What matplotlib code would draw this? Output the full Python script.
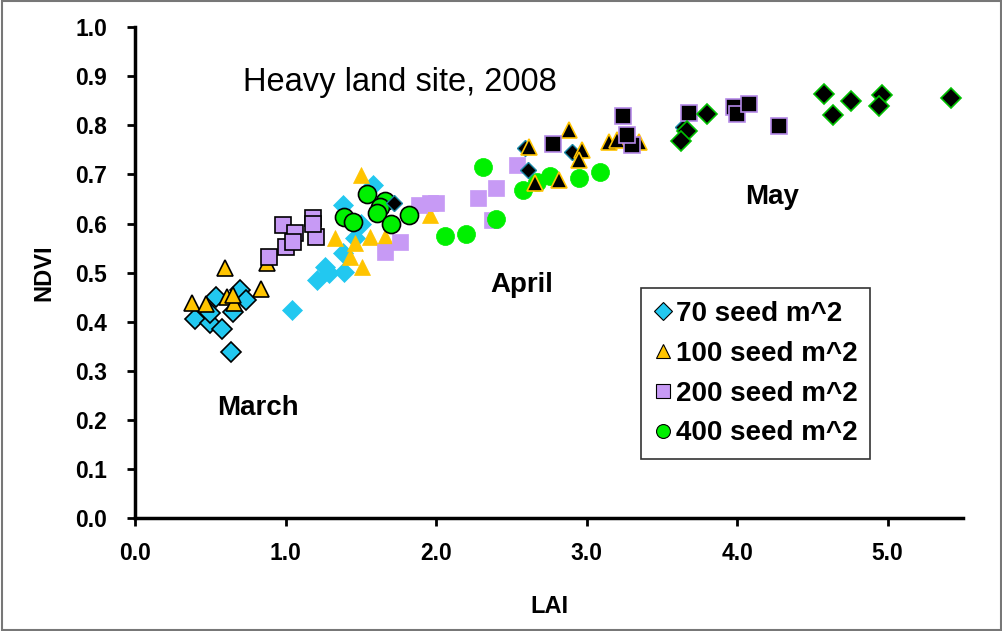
import matplotlib
matplotlib.use("Agg")
import matplotlib.pyplot as plt
from matplotlib.patches import Rectangle
from matplotlib.lines import Line2D

plt.rcParams['font.family'] = ['Liberation Sans', 'DejaVu Sans']

# ---- data (LAI, NDVI) ----
# March samples
mar70_x = [0.40, 0.50, 0.58, 0.54, 0.64, 0.65, 0.70, 0.74, 0.50]
mar70_y = [0.405, 0.397, 0.385, 0.450, 0.338, 0.420, 0.464, 0.444, 0.418]
mar100_x = [0.38, 0.47, 0.60, 0.61, 0.66, 0.65, 0.84, 0.88]
mar100_y = [0.438, 0.436, 0.509, 0.450, 0.438, 0.454, 0.466, 0.519]
mar200_x = [0.89, 0.98, 1.00, 1.06, 1.05, 1.18, 1.20, 1.18]
mar200_y = [0.532, 0.597, 0.552, 0.580, 0.562, 0.611, 0.572, 0.600]
mar400_x = [1.39, 1.45, 1.54, 1.66, 1.63, 1.61, 1.70, 1.82]
mar400_y = [0.613, 0.603, 0.660, 0.646, 0.633, 0.621, 0.599, 0.617]

# April samples
apr70_x = [1.04, 1.21, 1.26, 1.38, 1.39, 1.38, 1.46, 1.58, 1.50, 1.29]
apr70_y = [0.424, 0.485, 0.511, 0.637, 0.501, 0.540, 0.570, 0.678, 0.600, 0.500]
apr100_x = [1.50, 1.33, 1.46, 1.56, 1.66, 1.43, 1.51, 1.96]
apr100_y = [0.699, 0.570, 0.560, 0.572, 0.572, 0.532, 0.511, 0.617]
apr200_x = [1.96, 1.89, 1.76, 1.66, 2.00, 2.40, 2.28, 2.37, 2.54]
apr200_y = [0.641, 0.637, 0.562, 0.542, 0.641, 0.672, 0.652, 0.607, 0.719]
apr400_x = [2.31, 2.06, 2.20, 2.40, 2.58, 2.67, 2.76, 2.95, 3.09]
apr400_y = [0.715, 0.574, 0.578, 0.609, 0.668, 0.684, 0.697, 0.692, 0.705]

# May samples
may70_x = [2.59, 2.90, 2.61, 1.72, 3.64]
may70_y = [0.754, 0.745, 0.709, 0.641, 0.797]
may100_x = [2.62, 2.88, 2.97, 2.95, 3.15, 3.20, 3.35, 2.66, 2.82]
may100_y = [0.756, 0.790, 0.749, 0.729, 0.766, 0.770, 0.766, 0.682, 0.688]
may200_x = [3.24, 2.78, 3.30, 3.27, 3.68, 3.98, 4.00, 4.08, 4.28]
may200_y = [0.819, 0.762, 0.760, 0.780, 0.825, 0.837, 0.823, 0.843, 0.798]
may400_x = [3.80, 3.67, 3.63, 4.58, 4.64, 4.76, 4.96, 4.94, 5.42]
may400_y = [0.823, 0.788, 0.768, 0.864, 0.821, 0.849, 0.862, 0.839, 0.855]

labels = ['70 seed m^2', '100 seed m^2', '200 seed m^2', '400 seed m^2']
colors = ['#22c8f0', '#ffc400', '#c79af5', '#00f000']
markers = ['D', '^', 's', 'o']
sizes = [10, 12, 12, 13]

fig = plt.figure(figsize=(10.03, 6.31), dpi=100)
ax = fig.add_axes([0.1346, 0.179, 0.8254, 0.778])

march = [(mar70_x, mar70_y), (mar100_x, mar100_y), (mar200_x, mar200_y), (mar400_x, mar400_y)]
april = [(apr70_x, apr70_y), (apr100_x, apr100_y), (apr200_x, apr200_y), (apr400_x, apr400_y)]

for i in range(4):
    # March: coloured with black outline
    ax.plot(march[i][0], march[i][1], linestyle='none', marker=markers[i],
            markersize=sizes[i], markerfacecolor=colors[i], markeredgecolor='black',
            markeredgewidth=1.2, zorder=2 + i)
    # April: coloured, no outline
    ax.plot(april[i][0], april[i][1], linestyle='none', marker=markers[i],
            markersize=sizes[i], markerfacecolor=colors[i], markeredgecolor=colors[i],
            markeredgewidth=0.5, zorder=2 + i)

# May: black fill, coloured outline
ax.plot(may70_x, may70_y, linestyle='none', marker='D', markersize=8,
        markerfacecolor='black', markeredgecolor='#1a8aa8', markeredgewidth=1.0, zorder=7)
ax.plot(may100_x, may100_y, linestyle='none', marker='^', markersize=12,
        markerfacecolor='black', markeredgecolor='#ffc400', markeredgewidth=1.2, zorder=8)
ax.plot(may200_x, may200_y, linestyle='none', marker='s', markersize=12,
        markerfacecolor='black', markeredgecolor='#b58ae8', markeredgewidth=1.2, zorder=8)
ax.plot(may400_x, may400_y, linestyle='none', marker='D', markersize=10,
        markerfacecolor='black', markeredgecolor='#00c000', markeredgewidth=1.2, zorder=8)

ax.set_xlim(0, 5.5)
ax.set_ylim(0, 1.0)
ax.set_xticks([0, 1, 2, 3, 4, 5])
ax.set_xticklabels(['0.0', '1.0', '2.0', '3.0', '4.0', '5.0'])
ax.set_yticks([i / 10 for i in range(11)])
ax.set_yticklabels([f'{i / 10:.1f}' for i in range(11)])

for s in ['top', 'right']:
    ax.spines[s].set_visible(False)
for s in ['left', 'bottom']:
    ax.spines[s].set_linewidth(2.5)
    ax.spines[s].set_color('black')
ax.tick_params(axis='both', direction='out', length=6, width=2, colors='black',
               labelsize=16.5)
ax.tick_params(axis='x', pad=11)
ax.tick_params(axis='y', pad=14)
for lbl in ax.get_xticklabels() + ax.get_yticklabels():
    lbl.set_fontweight('bold')

ax.set_xlabel('LAI', fontsize=17, fontweight='bold', labelpad=22)
ax.set_ylabel('NDVI', fontsize=17, fontweight='bold', labelpad=14)

ax.text(1.76, 0.888, 'Heavy land site, 2008', fontsize=23.5, ha='center', va='center')
ax.text(0.817, 0.224, 'March', fontsize=20, fontweight='bold', ha='center', va='center')
ax.text(2.57, 0.474, 'April', fontsize=20, fontweight='bold', ha='center', va='center')
ax.text(4.23, 0.654, 'May', fontsize=20, fontweight='bold', ha='center', va='center')

handles = [Line2D([], [], linestyle='none', marker=markers[i], markersize=10 if i else 9,
                  markerfacecolor=colors[i], markeredgecolor='black', markeredgewidth=0.8)
           for i in range(4)]
leg = ax.legend(handles, labels, loc='upper left', bbox_to_anchor=(0.611, 0.468),
                frameon=True, fancybox=False, edgecolor='#333333', framealpha=1,
                prop={'weight': 'bold', 'size': 20}, handlelength=0.7, handletextpad=0.1,
                labelspacing=0.5, borderpad=0.45, borderaxespad=0)
leg.get_frame().set_linewidth(1.2)

fig.patches.append(Rectangle((0.002, 0.002), 0.996, 0.996, transform=fig.transFigure,
                             fill=False, edgecolor='#777777', linewidth=1.5))

fig.savefig('out.png', dpi=100)
